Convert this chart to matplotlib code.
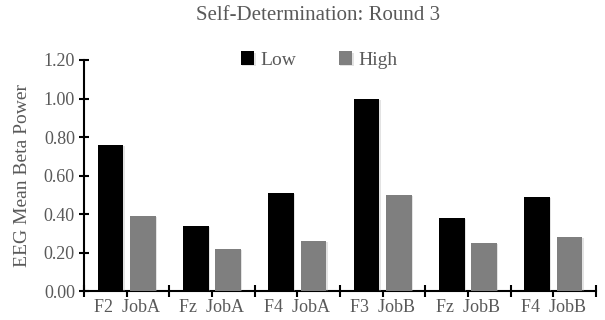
import numpy as np
import matplotlib
matplotlib.use('Agg')
import matplotlib.pyplot as plt
import matplotlib.patheffects as pe

# values
groups = ['F2  JobA', 'Fz  JobA', 'F4  JobA', 'F3  JobB', 'Fz  JobB', 'F4  JobB']
low = [0.76, 0.34, 0.51, 1.00, 0.38, 0.49]
high = [0.39, 0.22, 0.26, 0.50, 0.25, 0.28]
yticks = [0.0, 0.2, 0.4, 0.6, 0.8, 1.0, 1.2]

plt.rcParams['font.family'] = ['Liberation Serif', 'DejaVu Serif']
txt = '#595959'

fig = plt.figure(figsize=(6.05, 3.2), dpi=100)
ax = fig.add_axes([0.1388, 0.0906, 0.8462, 0.7219])

x = np.arange(len(groups))
w = 0.30
shadow = [pe.SimplePatchShadow(offset=(1, -1), shadow_rgbFace='#b0b0b0', alpha=0.35), pe.Normal()]
b1 = ax.bar(x - 0.19, low, w, color='black', label='Low', zorder=3)
b2 = ax.bar(x + 0.19, high, w, color='#7f7f7f', label='High', zorder=3)
for b in list(b1) + list(b2):
    b.set_path_effects(shadow)

ax.set_xlim(-0.5, len(groups) - 0.5)
ax.set_ylim(0, 1.2)
ax.set_yticks(yticks)
ax.set_yticklabels(['%.2f' % v for v in yticks])

# boundaries as major ticks, labels at group centres
ax.set_xticks(np.arange(len(groups) + 1) - 0.5)
ax.set_xticklabels([])
ax.set_xticks(x, minor=True)
ax.set_xticklabels(groups, minor=True)
ax.tick_params(axis='x', which='major', direction='inout', length=9, width=1.5, color='black')
ax.tick_params(axis='x', which='minor', direction='out', length=4, width=1.5, color='black',
               labelsize=13, labelcolor=txt, pad=2)
ax.tick_params(axis='y', direction='inout', length=7, width=1.5, color='black',
               labelsize=13, labelcolor=txt, pad=3)

for s in ['top', 'right']:
    ax.spines[s].set_visible(False)
for s in ['left', 'bottom']:
    ax.spines[s].set_linewidth(1.5)
    ax.spines[s].set_color('black')

ax.set_ylabel('EEG Mean Beta Power', fontsize=14, color=txt, labelpad=9)
fig.text(0.525, 0.952, 'Self-Determination: Round 3', ha='center', va='center',
         fontsize=15, color=txt)
fig.legend(handles=[b1, b2], loc='center', bbox_to_anchor=(0.527, 0.812), ncol=2,
           frameon=False, fontsize=14, labelcolor=txt, handlelength=0.7, handleheight=0.7,
           handletextpad=0.3, columnspacing=2.2)

fig.savefig('out.png', dpi=100)
